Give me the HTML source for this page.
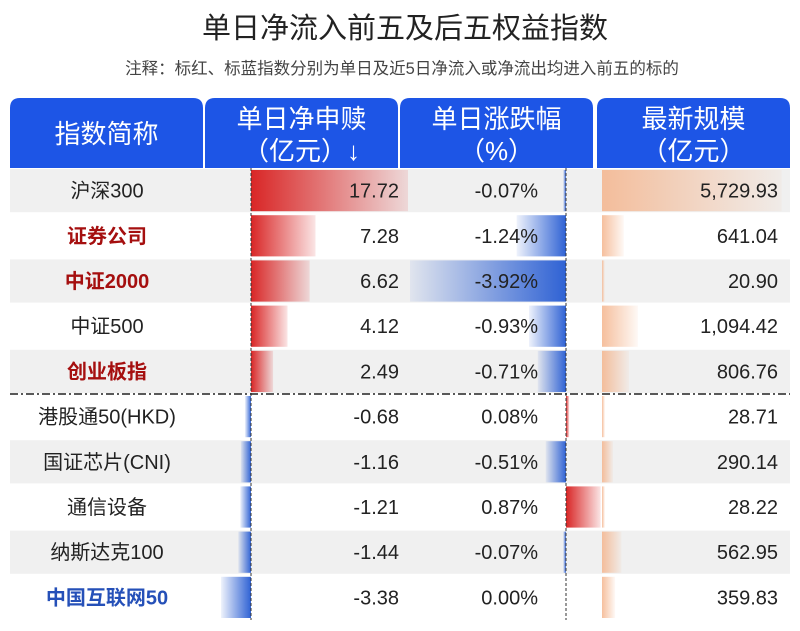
<!DOCTYPE html>
<html><head><meta charset="utf-8">
<style>
html,body{margin:0;padding:0;background:#fff;width:800px;height:631px;overflow:hidden}
svg{display:block;font-family:"Liberation Sans","Noto Sans CJK SC",sans-serif}
</style></head>
<body>
<svg id="chart" width="800" height="631" viewBox="0 0 800 631">
<defs>
<linearGradient id="gRedR" x1="0" x2="1" y1="0" y2="0"><stop offset="0" stop-color="#d92626"/><stop offset="1" stop-color="#d92626" stop-opacity="0.12"/></linearGradient>
<linearGradient id="gBlueL" x1="1" x2="0" y1="0" y2="0"><stop offset="0" stop-color="#2f62d4"/><stop offset="1" stop-color="#2f62d4" stop-opacity="0.08"/></linearGradient>
<linearGradient id="gOr" x1="0" x2="1" y1="0" y2="0"><stop offset="0" stop-color="#f4b48c" stop-opacity="0.85"/><stop offset="1" stop-color="#f4b48c" stop-opacity="0.08"/></linearGradient>
</defs>
<text x="405" y="38" text-anchor="middle" font-size="29" fill="#222">单日净流入前五及后五权益指数</text>
<text x="402" y="74" text-anchor="middle" font-size="16.5" fill="#444">注释：标红、标蓝指数分别为单日及近5日净流入或净流出均进入前五的标的</text>
<g id="header"></g>
<g id="rows"></g>
<g id="bars"></g>
<g id="texts"></g>
<g id="lines"></g>
</svg>
<script>
const names = ["沪深300","证券公司","中证2000","中证500","创业板指","港股通50(HKD)","国证芯片(CNI)","通信设备","纳斯达克100","中国互联网50"];
const nameColors = ["#222","#a50f0f","#a50f0f","#222","#a50f0f","#222","#222","#222","#222","#2550b8"];
const boldNames = [false,true,true,false,true,false,false,false,false,true];
const netFlow = [17.72,7.28,6.62,4.12,2.49,-0.68,-1.16,-1.21,-1.44,-3.38];
const pctChange = [-0.07,-1.24,-3.92,-0.93,-0.71,0.08,-0.51,0.87,-0.07,0.00];
const scale = [5729.93,641.04,20.90,1094.42,806.76,28.71,290.14,28.22,562.95,359.83];
const headers = [["指数简称"],["单日净申赎","（亿元）↓"],["单日涨跌幅","（%）"],["最新规模","（亿元）"]];

const NS="http://www.w3.org/2000/svg";
function mk(tag,attrs,parent){const e=document.createElementNS(NS,tag);for(const k in attrs)e.setAttribute(k,attrs[k]);parent.appendChild(e);return e;}
const gH=document.getElementById('header'),gR=document.getElementById('rows'),gB=document.getElementById('bars'),gT=document.getElementById('texts'),gL=document.getElementById('lines');
const colX=[[10,203],[205,398],[400,593],[597,790]];
const top0=168,rowH=45.2;
const rowY=i=>top0+i*rowH;
const flowX=v=>251+v*8.86;
const pctX=v=>566+v*39.8;
const scaleX=v=>602+v*0.031;

headers.forEach((h,c)=>{
  const [x0,x1]=colX[c];
  const p=mk('path',{d:`M${x0},168 V108 Q${x0},98 ${x0+10},98 H${x1-10} Q${x1},98 ${x1},108 V168 Z`,fill:'#1d55e6'},gH);
  
  
  const cx=(x0+x1)/2;
  h.forEach((t,k)=>{
    const y=h.length===1?143:(128+k*32);
    const tx=mk('text',{x:cx,y:y,'text-anchor':'middle','font-size':26,fill:'#fff'},gH);
    tx.textContent=t;
    
    
  });
});

names.forEach((n,i)=>{
  const y=rowY(i);
  if(i%2===0){
    const r=mk('rect',{x:10,y:y+1,width:780,height:rowH-2,fill:'#f0f0f0'},gR);
    
    
  }
  const v=netFlow[i];
  const fx=flowX(v);
  const b1=mk('rect',{x:Math.min(fx,251),y:y+2,width:Math.abs(fx-251),height:rowH-4,fill:v>=0?'url(#gRedR)':'url(#gBlueL)'},gB);
  
  
  const p=pctChange[i];
  const px=pctX(p);
  const b2=mk('rect',{x:Math.min(px,566),y:y+2,width:Math.abs(px-566),height:rowH-4,fill:p>=0?'url(#gRedR)':'url(#gBlueL)'},gB);
  
  
  const s=scale[i];
  const b3=mk('rect',{x:602,y:y+2,width:scaleX(s)-602+2,height:rowH-4,fill:'url(#gOr)'},gB);
  
  

  const ty=y+rowH/2+7;
  const t1=mk('text',{x:107,y:ty,'text-anchor':'middle','font-size':20,fill:nameColors[i],'font-weight':boldNames[i]?'bold':'normal'},gT);
  t1.textContent=n;
  
  
  const t2=mk('text',{x:399,y:ty,'text-anchor':'end','font-size':20,fill:'#222'},gT);
  t2.textContent=v.toFixed(2);
  
  
  const t3=mk('text',{x:538,y:ty,'text-anchor':'end','font-size':20,fill:'#222'},gT);
  t3.textContent=p.toFixed(2)+'%';
  
  
  const t4=mk('text',{x:778,y:ty,'text-anchor':'end','font-size':20,fill:'#222'},gT);
  t4.textContent=s.toLocaleString('en-US',{minimumFractionDigits:2,maximumFractionDigits:2});
  
  
});
const bottom=rowY(names.length);
const a1=mk('line',{x1:251,x2:251,y1:168,y2:bottom,stroke:'#333','stroke-width':1,'stroke-dasharray':'3,2'},gL);


const a2=mk('line',{x1:566,x2:566,y1:168,y2:bottom,stroke:'#333','stroke-width':1,'stroke-dasharray':'3,2'},gL);


const dv=mk('line',{x1:10,x2:790,y1:rowY(5),y2:rowY(5),stroke:'#222','stroke-width':1.5,'stroke-dasharray':'8,3,2,3'},gL);


</script>
</body></html>
